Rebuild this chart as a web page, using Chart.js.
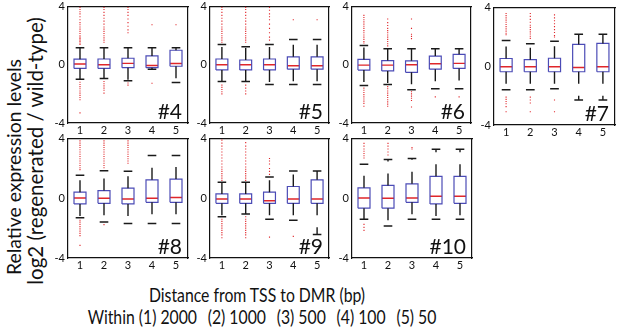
<!DOCTYPE html>
<html>
<head>
<meta charset="utf-8">
<script src="https://cdn.jsdelivr.net/npm/chart.js@4.4.1/dist/chart.umd.min.js"></script>
<style>
  body { margin: 0; background: #fff; width: 617px; height: 327px; overflow: hidden; position: relative; font-family: Lato, sans-serif; }
  canvas { position: absolute; }
  .lbl { position: absolute; white-space: nowrap; color: #111; text-align: center; }
  .rot { transform: rotate(-90deg); width: 320px; line-height: 26px; }
  .narrow { transform: scaleX(0.83); transform-origin: center; width: 440px; line-height: 22px; }
  .gap { margin-left: 13px; }
</style>
</head>
<body>
<div class="lbl rot" style="left:-146px; top:154px; font-size:19.4px;">Relative expression levels</div>
<div class="lbl rot" style="left:-125px; top:138px; font-size:20.5px;">log2 (regenerated / wild-type)</div>
<div class="lbl narrow" style="left:37px; top:284px; font-size:19px;">Distance from TSS to DMR (bp)</div>
<div class="lbl narrow" style="left:42px; top:306px; font-size:19px;">Within (1) 2000<span class="gap">(2) 1000</span><span class="gap">(3) 500</span><span class="gap">(4) 100</span><span class="gap">(5) 50</span></div>

<script>
// panel names, categories, ticks
const panelNames = ['#4', '#5', '#6', '#7', '#8', '#9', '#10'];
const categories = ['1', '2', '3', '4', '5'];
const yTicks = [-4, 0, 4];

// box stats per panel (one row per panel, one value per category)
const whiskerLow = [
  [-1.0, -0.95, -1.1, -0.3, -1.22],
  [-1.15, -1.15, -1.36, -1.36, -1.36],
  [-1.42, -1.36, -1.72, -1.65, -1.65],
  [-1.6, -1.6, -1.53, -2.3, -2.3],
  [-1.31, -1.58, -1.69, -1.69, -1.69],
  [-1.24, -1.06, -1.4, -1.47, -2.42],
  [-1.4, -1.85, -1.4, -1.4, -1.4]
];
const quartile1 = [
  [-0.25, -0.25, -0.2, -0.2, -0.1],
  [-0.35, -0.35, -0.35, -0.3, -0.3],
  [-0.36, -0.42, -0.52, -0.3, -0.25],
  [-0.37, -0.37, -0.37, -0.37, -0.37],
  [-0.38, -0.34, -0.38, -0.27, -0.27],
  [-0.34, -0.34, -0.34, -0.34, -0.34],
  [-0.66, -0.66, -0.27, -0.38, -0.34]
];
const medians = [
  [0.05, 0.0, 0.1, -0.05, 0.09],
  [0.0, 0.0, 0.0, -0.07, -0.07],
  [-0.02, -0.02, 0.0, 0.07, 0.1],
  [-0.03, -0.03, -0.03, -0.08, -0.03],
  [0.02, 0.0, -0.05, 0.0, 0.05],
  [-0.05, -0.05, -0.16, -0.05, -0.05],
  [0.02, 0.0, 0.02, 0.14, 0.14]
];
const quartile3 = [
  [0.39, 0.4, 0.45, 0.61, 1.0],
  [0.4, 0.33, 0.4, 0.55, 0.55],
  [0.37, 0.29, 0.27, 0.6, 0.72],
  [0.53, 0.45, 0.55, 1.49, 1.56],
  [0.41, 0.52, 0.68, 1.24, 1.29],
  [0.29, 0.29, 0.41, 0.79, 1.24],
  [0.7, 0.86, 0.97, 1.47, 1.47]
];
const whiskerHigh = [
  [1.17, 1.17, 1.17, 1.17, 1.17],
  [1.4, 1.24, 1.4, 1.74, 1.74],
  [1.33, 1.1, 1.1, 1.1, 1.1],
  [1.76, 1.53, 1.71, 2.19, 2.19],
  [1.54, 1.85, 1.81, 2.87, 2.87],
  [1.08, 1.08, 1.42, 1.83, 1.83],
  [2.28, 2.6, 2.67, 3.28, 3.28]
];
const outliers = [
  [ // #4
    [3.95, 3.8, 3.65, 3.5, 3.3, 3.1, 2.9, 2.75, 2.6, 2.45, 2.3, 2.15, 2.0, 1.9, 1.8, 1.7, 1.6, 1.5, 1.4, -1.2, -1.35, -1.5, -1.65, -1.8, -1.95, -2.1, -2.25, -2.4, -3.3],
    [3.95, 3.8, 3.6, 3.4, 3.2, 3.0, 2.8, 2.6, 2.45, 2.3, 2.15, 2.0, 1.85, 1.7, 1.55, -1.15, -1.3, -1.45, -1.6, -1.75, -1.95],
    [3.95, 3.8, 3.6, 3.4, 3.15, 2.9, 2.65, 2.4, 2.2, -1.25, -1.4],
    [2.75, -1.27],
    [2.75]
  ],
  [ // #5
    [3.95, 3.8, 3.6, 3.4, 3.2, 3.0, 2.8, 2.6, 2.45, 2.3, 2.15, 2.0, 1.85, 1.7, 1.55, -1.4, -1.55, -1.7, -1.85, -2.0],
    [3.95, 3.8, 3.6, 3.4, 3.2, 3.0, 2.8, 2.6, 2.45, 2.3, 2.15, 2.0, 1.85, 1.7, 1.55, -1.4, -1.6, -1.8, -2.0],
    [3.95, 3.75, 3.5, 3.3, 3.1, 2.8, 2.5, 2.2, 1.9, 1.7],
    [3.1],
    [3.1]
  ],
  [ // #6
    [3.4, 3.25, 3.1, 2.95, 2.8, 2.65, 2.5, 2.35, 2.2, 2.05, 1.9, 1.75, 1.6, 1.5, -1.6, -1.75, -1.9, -2.05, -2.2, -2.35, -2.5, -2.65, -2.85],
    [3.15, 2.9, 2.7, 2.5, 2.35, 2.2, 2.05, 1.9, 1.75, 1.6, 1.45, 1.3, -1.5, -1.65, -1.8, -1.95, -2.1, -2.25, -2.4, -2.55, -2.7, -2.85],
    [3.15, 2.5, 2.1, 1.95, 1.8, -1.85, -2.0, -2.15, -2.3, -2.45, -2.9],
    [-2.2],
    [-2.2]
  ],
  [ // #7
    [3.6, 3.45, 3.3, 3.15, 3.0, 2.85, 2.7, 2.55, 2.4, 2.25, 2.15, -2.1, -2.25, -2.4, -2.55, -2.75, -3.1],
    [3.6, 3.4, 3.2, 3.0, 2.8, 2.65, 2.5, 2.35, 2.2, 2.05, 1.9, -2.1, -2.3, -2.5, -3.1],
    [3.5, 3.3, 3.1, 2.9, 2.7, 2.5, 2.3, 2.1, 2.0, -2.3, -3.1],
    [],
    []
  ],
  [ // #8
    [3.85, 3.7, 3.55, 3.4, 3.25, 3.1, 2.95, 2.8, 2.65, 2.5, 2.35, 2.2, 2.05, 1.92, -1.47, -1.6, -1.75, -1.9, -2.05, -2.2, -2.35, -2.5, -3.15],
    [3.85, 3.7, 3.55, 3.4, 3.25, 3.1, 2.95, 2.8, 2.65, 2.5, 2.35, 2.2, 2.05, -1.76],
    [3.85, 3.7, 3.55, 3.4, 3.25, 3.1, 2.95, 2.8, 2.65, 2.5, 2.35],
    [],
    []
  ],
  [ // #9
    [3.9, 3.7, 3.5, 3.3, 3.1, 2.9, 2.7, 2.5, 2.3, 2.1, 1.95, 1.8, 1.65, 1.5, 1.35, 1.2, -1.4, -1.55, -1.7, -1.85, -2.0, -2.15, -2.3, -2.45, -2.64],
    [3.73, 3.5, 3.3, 3.1, 2.9, 2.7, 2.5, 2.3, 2.1, 1.95, 1.8, 1.65, 1.5, 1.35, 1.2, -1.24, -1.4, -1.55, -1.7, -1.85, -2.0, -2.15, -2.3, -2.45, -2.64],
    [2.67, 2.5, 2.3, 2.0, 1.8, 1.6, -2.6],
    [-2.55],
    []
  ],
  [ // #10
    [3.68, 3.5, 3.3, 3.15, 3.0, 2.85, 2.7, -1.75, -1.95, -2.15],
    [3.68, 3.5, 3.3, 3.1, 2.9],
    [3.4, 3.3],
    [],
    []
  ]
];

// where each panel's plot area sits on the page: [left, top, width, height]
const frames = [
  [68, 5, 120, 118], [210, 5, 119, 118], [352, 5, 119, 118], [494, 6, 121, 119],
  [68, 137, 120, 121], [210, 137, 119, 121], [352, 137, 120, 121]
];

const FONT = 'Lato, "Noto Sans", sans-serif';
const BOX_BLUE = '#4b4bb6';
const RED = '#e0262a';
const PADL = 28, PADT = 8, PADR = 4, PADB = 18;

const panelLabel = {
  id: 'panelLabel',
  afterDraw(chart, args, opts) {
    const { ctx, chartArea } = chart;
    ctx.save();
    ctx.font = '21px ' + FONT;
    ctx.fillStyle = '#111';
    ctx.textAlign = 'right';
    ctx.textBaseline = 'alphabetic';
    ctx.fillText(opts.text, chartArea.right - 6, chartArea.bottom - 4);
    ctx.restore();
  }
};

function buildPanel(p) {
  const [left, top, w, h] = frames[p];
  const canvas = document.createElement('canvas');
  canvas.width = w + PADL + PADR;
  canvas.height = h + PADT + PADB;
  canvas.style.left = (left - PADL) + 'px';
  canvas.style.top = (top - PADT) + 'px';
  document.body.appendChild(canvas);

  const boxes = [], meds = [], whisk = [], caps = [], dots = [];
  categories.forEach((c, i) => {
    const x = i + 1, hw = 0.25, cw = 0.18;
    const q1 = quartile1[p][i], q3 = quartile3[p][i];
    boxes.push({x: x - hw, y: q1}, {x: x + hw, y: q1}, {x: x + hw, y: q3}, {x: x - hw, y: q3}, {x: x - hw, y: q1}, {x: x, y: null});
    meds.push({x: x - hw, y: medians[p][i]}, {x: x + hw, y: medians[p][i]}, {x: x, y: null});
    whisk.push({x: x, y: q3}, {x: x, y: whiskerHigh[p][i]}, {x: x, y: null});
    whisk.push({x: x, y: q1}, {x: x, y: whiskerLow[p][i]}, {x: x, y: null});
    caps.push({x: x - cw, y: whiskerHigh[p][i]}, {x: x + cw, y: whiskerHigh[p][i]}, {x: x, y: null});
    caps.push({x: x - cw, y: whiskerLow[p][i]}, {x: x + cw, y: whiskerLow[p][i]}, {x: x, y: null});
    outliers[p][i].forEach(v => dots.push({x: x, y: v}));
  });

  const lineSet = (data, color, width, dash) => ({
    type: 'scatter', data, showLine: true, spanGaps: false, borderColor: color,
    borderWidth: width, borderDash: dash || [], pointRadius: 0, fill: false, tension: 0
  });

  new Chart(canvas, {
    type: 'scatter',
    data: {
      datasets: [
        lineSet(whisk, '#1a1a1a', 1.4, [12, 12]),
        lineSet(caps, '#1a1a1a', 1.5),
        lineSet(boxes, BOX_BLUE, 1.2),
        lineSet(meds, RED, 1.4),
        { type: 'scatter', data: dots, pointRadius: 0.8, pointStyle: 'rect', pointBorderWidth: 0,
          backgroundColor: RED, borderColor: RED }
      ]
    },
    options: {
      responsive: false,
      animation: false,
      layout: { padding: { left: 0, top: PADT, right: PADR, bottom: 0 } },
      plugins: { legend: { display: false }, tooltip: { enabled: false }, panelLabel: { text: panelNames[p] } },
      scales: {
        x: {
          type: 'linear', min: 0.5, max: 5.5, position: 'bottom',
          afterBuildTicks: s => { s.ticks = categories.map((c, i) => ({ value: i + 1 })); },
          afterFit: s => { s.height = PADB; },
          ticks: { callback: v => categories[v - 1], font: { family: FONT, size: 11 }, color: '#111', padding: 1, maxRotation: 0 },
          grid: { display: false, drawTicks: false },
          border: { display: true, color: '#111', width: 1.2 }
        },
        y: {
          min: -4, max: 4,
          afterBuildTicks: s => { s.ticks = yTicks.map(v => ({ value: v })); },
          afterFit: s => { s.width = PADL; },
          ticks: { font: { family: FONT, size: 11 }, color: '#111', padding: 3 },
          grid: { display: false, drawTicks: false },
          border: { display: true, color: '#111', width: 1.2 }
        },
        xTop: {
          type: 'linear', min: 0.5, max: 5.5, position: 'top',
          afterFit: s => { s.height = 0; },
          ticks: { display: false }, grid: { display: false, drawTicks: false },
          border: { display: true, color: '#111', width: 1.2 }
        },
        yRight: {
          min: -4, max: 4, position: 'right',
          afterFit: s => { s.width = 0; },
          ticks: { display: false }, grid: { display: false, drawTicks: false },
          border: { display: true, color: '#111', width: 1.2 }
        }
      }
    },
    plugins: [panelLabel]
  });
}

panelNames.forEach((n, p) => buildPanel(p));
</script>
</body>
</html>
